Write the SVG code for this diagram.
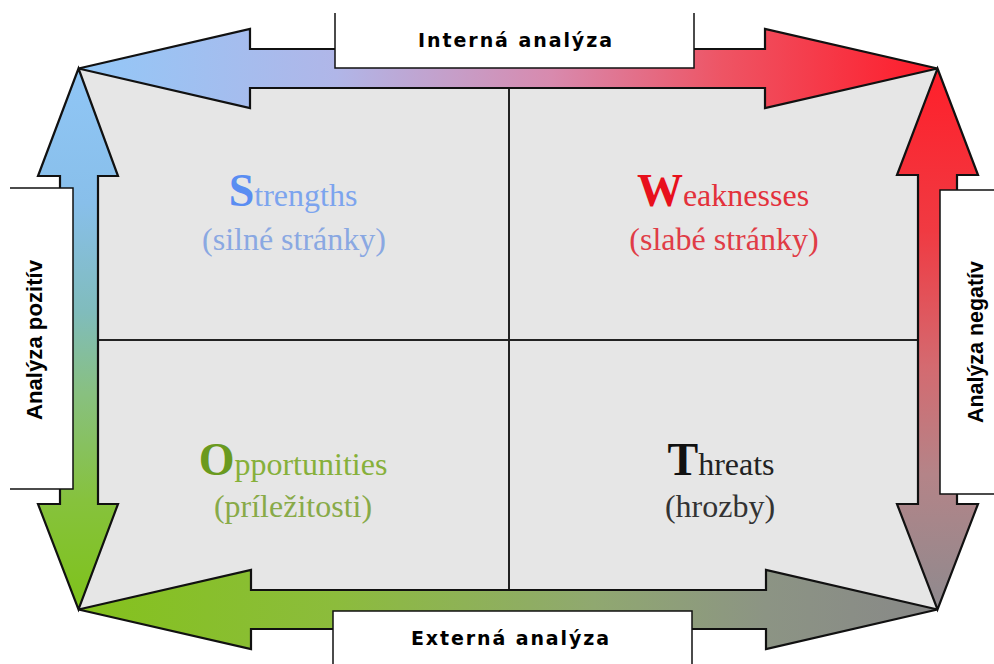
<svg xmlns="http://www.w3.org/2000/svg" width="994" height="664" viewBox="0 0 994 664">
  <defs>
    <linearGradient id="gradTop" gradientUnits="userSpaceOnUse" x1="78" y1="0" x2="938" y2="0">
      <stop offset="0" stop-color="#92c8f8"/>
      <stop offset="0.3" stop-color="#b0b6e8"/>
      <stop offset="0.55" stop-color="#d88aae"/>
      <stop offset="0.75" stop-color="#ee5464"/>
      <stop offset="1" stop-color="#ff1a28"/>
    </linearGradient>
    <linearGradient id="gradBottom" gradientUnits="userSpaceOnUse" x1="78" y1="0" x2="938" y2="0">
      <stop offset="0" stop-color="#84c21c"/>
      <stop offset="0.3" stop-color="#8cbc3c"/>
      <stop offset="0.6" stop-color="#90a870"/>
      <stop offset="0.8" stop-color="#8c9484"/>
      <stop offset="1" stop-color="#888888"/>
    </linearGradient>
    <linearGradient id="gradLeft" gradientUnits="userSpaceOnUse" x1="0" y1="68" x2="0" y2="610">
      <stop offset="0" stop-color="#90c6f6"/>
      <stop offset="0.25" stop-color="#88bfea"/>
      <stop offset="0.45" stop-color="#80bcbc"/>
      <stop offset="0.6" stop-color="#88c080"/>
      <stop offset="0.8" stop-color="#86c23c"/>
      <stop offset="1" stop-color="#7ec21a"/>
    </linearGradient>
    <linearGradient id="gradRight" gradientUnits="userSpaceOnUse" x1="0" y1="68" x2="0" y2="610">
      <stop offset="0" stop-color="#ff1f2a"/>
      <stop offset="0.3" stop-color="#f03a42"/>
      <stop offset="0.55" stop-color="#d46a70"/>
      <stop offset="0.75" stop-color="#b48488"/>
      <stop offset="1" stop-color="#8e8a8e"/>
    </linearGradient>
  </defs>
  <style>
    .arrow { stroke: #111; stroke-width: 2.2; stroke-linejoin: miter; }
    .grid { stroke: #222; stroke-width: 2; fill: none; }
    .label-box { fill: #ffffff; stroke: #111; stroke-width: 1.5; }
    .axis-h { font-family: "DejaVu Sans", "Liberation Sans", sans-serif; font-weight: bold; font-size: 19px; fill: #000; }
    .axis-v { font-family: "Liberation Sans", Arial, sans-serif; font-weight: bold; font-size: 22px; fill: #000; }
    .q { font-family: "Liberation Serif", "Times New Roman", serif; font-size: 32px; text-anchor: middle; }
    .cap { font-weight: bold; font-size: 46px; }
  </style>

  <rect width="994" height="664" fill="#ffffff"/>

  <!-- matrix background and dividers -->
  <g id="matrix">
    <rect x="78.5" y="68.5" width="859" height="541" fill="#e6e6e6"/>
    <line class="grid" x1="509" y1="88" x2="509" y2="590"/>
    <line class="grid" x1="98" y1="340" x2="918" y2="340"/>
  </g>

  <!-- double-headed arrows around the matrix -->
  <g id="connectors">
    <polygon class="arrow" fill="url(#gradTop)" points="78.5,68.5 250,29 250,49 765,49 765,29 937.5,68.5 765,108 765,88 250,88 250,108"/>
    <polygon class="arrow" fill="url(#gradBottom)" points="78.5,609.5 251,570 251,590 766,590 766,570 937.5,609.5 766,649 766,629 251,629 251,649"/>
    <polygon class="arrow" fill="url(#gradLeft)" points="78.5,68.5 118,176 98,176 98,504 118,504 78.5,609.5 38,504 60,504 60,176 38,176"/>
    <polygon class="arrow" fill="url(#gradRight)" points="937.5,68.5 978,175 957,175 957,504 978,504 937.5,609.5 897,504 918,504 918,175 897,175"/>
  </g>

  <!-- axis labels -->
  <g id="label-internal">
    <path class="label-box" d="M335,13 V68 H694 V13"/>
    <text class="axis-h" x="418" y="47" textLength="194" lengthAdjust="spacing">Interná analýza</text>
  </g>
  <g id="label-external">
    <path class="label-box" d="M333,664 V611 H692 V664"/>
    <text class="axis-h" x="411" y="645" textLength="198" lengthAdjust="spacing">Externá analýza</text>
  </g>
  <g id="label-positive">
    <path class="label-box" d="M10,188 H73 V489 H10"/>
    <text class="axis-v" transform="translate(42,420) rotate(-90)" textLength="160" lengthAdjust="spacingAndGlyphs">Analýza pozitív</text>
  </g>
  <g id="label-negative">
    <path class="label-box" d="M994,190 H940 V494 H994"/>
    <text class="axis-v" transform="translate(983,423) rotate(-90)" textLength="162" lengthAdjust="spacingAndGlyphs">Analýza negatív</text>
  </g>

  <!-- quadrants -->
  <g id="quadrant-strengths">
    <text class="q" x="293" y="206"><tspan class="cap" fill="#5a8df2">S</tspan><tspan fill="#7ca4ee">trengths</tspan></text>
    <text class="q" x="294" y="250" fill="#8aa8e2">(silné stránky)</text>
  </g>
  <g id="quadrant-weaknesses">
    <text class="q" x="723" y="206"><tspan class="cap" fill="#e8101c">W</tspan><tspan fill="#e3313b">eaknesses</tspan></text>
    <text class="q" x="724" y="250" fill="#e03c46">(slabé stránky)</text>
  </g>
  <g id="quadrant-opportunities">
    <text class="q" x="293" y="475"><tspan class="cap" fill="#6a9a1e">O</tspan><tspan fill="#86b03a">pportunities</tspan></text>
    <text class="q" x="293" y="517" fill="#88aa48">(príležitosti)</text>
  </g>
  <g id="quadrant-threats">
    <text class="q" x="721" y="475"><tspan class="cap" fill="#111111">T</tspan><tspan fill="#222222">hreats</tspan></text>
    <text class="q" x="720" y="517" fill="#333333">(hrozby)</text>
  </g>
</svg>
